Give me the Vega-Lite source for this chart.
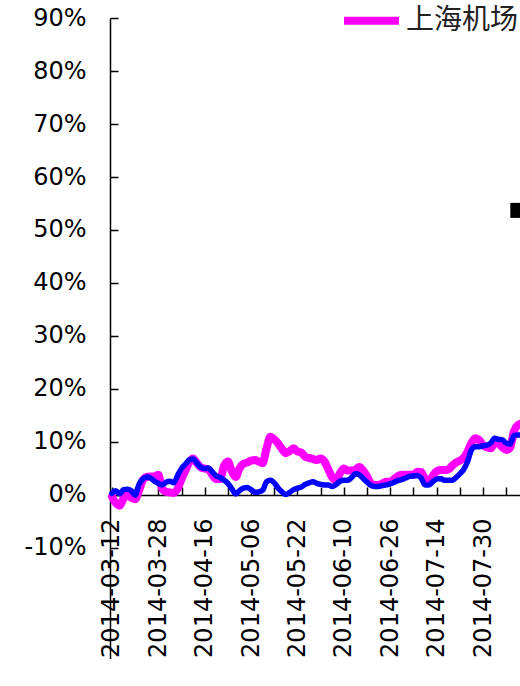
{
  "$schema": "https://vega.github.io/schema/vega-lite/v6.json",
  "width": 413.6,
  "height": 641.3,
  "autosize": {"type": "none"},
  "padding": {"left": 110, "top": 18, "right": 0, "bottom": 0},
  "background": "white",
  "config": {
    "view": {"stroke": null},
    "axis": {
      "grid": false,
      "title": null,
      "domainColor": "black",
      "domainWidth": 1.5,
      "tickColor": "black",
      "tickWidth": 1.5,
      "tickSize": -8,
      "labelColor": "black",
      "labelFont": "DejaVu Sans"
    }
  },
  "encoding": {
    "x": {
      "field": "date",
      "type": "ordinal",
      "scale": {"type": "point", "padding": 0.5},
      "axis": {
        "orient": "bottom",
        "offset": -164.3,
        "values": ["2014-03-12", "2014-03-20", "2014-03-28", "2014-04-08", "2014-04-16", "2014-04-24", "2014-05-06", "2014-05-14", "2014-05-22", "2014-05-30", "2014-06-10", "2014-06-18", "2014-06-26", "2014-07-04", "2014-07-14", "2014-07-22", "2014-07-30", "2014-08-07"],
        "labelExpr": "indexof(['2014-03-12','2014-03-28','2014-04-16','2014-05-06','2014-05-22','2014-06-10','2014-06-26','2014-07-14','2014-07-30'], datum.value) >= 0 ? datum.value : ''",
        "labelAngle": 270,
        "labelFontSize": 24,
        "labelPadding": 31,
        "labelOverlap": false,
        "labelLimit": 0
      }
    },
    "y": {
      "field": "value",
      "type": "quantitative",
      "scale": {"domain": [-31, 90], "nice": false, "zero": false},
      "axis": {
        "values": [-10, 0, 10, 20, 30, 40, 50, 60, 70, 80, 90],
        "labelExpr": "datum.value + '%'",
        "labelFontSize": 24,
        "labelPadding": 32
      }
    }
  },
  "layer": [
    {
      "data": {
        "values": [
          {"date": "2014-03-12", "上海机场": -0.3, "上证综指": 0.3},
          {"date": "2014-03-13", "上海机场": -1.5, "上证综指": 0.8},
          {"date": "2014-03-14", "上海机场": -2.0, "上证综指": 0.2},
          {"date": "2014-03-17", "上海机场": -0.7, "上证综指": 1.0},
          {"date": "2014-03-18", "上海机场": 0.0, "上证综指": 1.1},
          {"date": "2014-03-19", "上海机场": -0.5, "上证综指": 0.8},
          {"date": "2014-03-20", "上海机场": -0.8, "上证综指": 0.0},
          {"date": "2014-03-21", "上海机场": 0.8, "上证综指": 2.0},
          {"date": "2014-03-24", "上海机场": 2.8, "上证综指": 3.0},
          {"date": "2014-03-25", "上海机场": 3.4, "上证综指": 3.4},
          {"date": "2014-03-26", "上海机场": 3.5, "上证综指": 3.2},
          {"date": "2014-03-27", "上海机场": 3.5, "上证综指": 2.6},
          {"date": "2014-03-28", "上海机场": 3.8, "上证综指": 2.2},
          {"date": "2014-03-31", "上海机场": 1.2, "上证综指": 1.9},
          {"date": "2014-04-01", "上海机场": 0.6, "上证综指": 2.4},
          {"date": "2014-04-02", "上海机场": 0.5, "上证综指": 2.6},
          {"date": "2014-04-03", "上海机场": 0.4, "上证综指": 2.3},
          {"date": "2014-04-04", "上海机场": 1.2, "上证综指": 3.7},
          {"date": "2014-04-08", "上海机场": 3.0, "上证综指": 5.0},
          {"date": "2014-04-09", "上海机场": 4.6, "上证综指": 5.8},
          {"date": "2014-04-10", "上海机场": 6.2, "上证综指": 6.6},
          {"date": "2014-04-11", "上海机场": 6.9, "上证综指": 6.8},
          {"date": "2014-04-14", "上海机场": 6.0, "上证综指": 6.0},
          {"date": "2014-04-15", "上海机场": 5.2, "上证综指": 5.2},
          {"date": "2014-04-16", "上海机场": 5.0, "上证综指": 5.0},
          {"date": "2014-04-17", "上海机场": 4.8, "上证综指": 5.1},
          {"date": "2014-04-18", "上海机场": 3.8, "上证综指": 4.3},
          {"date": "2014-04-21", "上海机场": 3.0, "上证综指": 3.6},
          {"date": "2014-04-22", "上海机场": 3.0, "上证综指": 3.3},
          {"date": "2014-04-23", "上海机场": 5.5, "上证综指": 2.8},
          {"date": "2014-04-24", "上海机场": 6.3, "上证综指": 2.2},
          {"date": "2014-04-25", "上海机场": 4.5, "上证综指": 1.2},
          {"date": "2014-04-28", "上海机场": 3.4, "上证综指": 0.2},
          {"date": "2014-04-29", "上海机场": 5.0, "上证综指": 0.8},
          {"date": "2014-04-30", "上海机场": 5.9, "上证综指": 1.3},
          {"date": "2014-05-05", "上海机场": 6.1, "上证综指": 1.4},
          {"date": "2014-05-06", "上海机场": 6.5, "上证综指": 1.0},
          {"date": "2014-05-07", "上海机场": 6.6, "上证综指": 0.5},
          {"date": "2014-05-08", "上海机场": 6.3, "上证综指": 0.6},
          {"date": "2014-05-09", "上海机场": 6.0, "上证综指": 0.9},
          {"date": "2014-05-12", "上海机场": 8.8, "上证综指": 2.5},
          {"date": "2014-05-13", "上海机场": 11.0, "上证综指": 2.8},
          {"date": "2014-05-14", "上海机场": 10.5, "上证综指": 2.3},
          {"date": "2014-05-15", "上海机场": 9.7, "上证综指": 1.3},
          {"date": "2014-05-16", "上海机场": 8.7, "上证综指": 0.6},
          {"date": "2014-05-19", "上海机场": 7.9, "上证综指": 0.1},
          {"date": "2014-05-20", "上海机场": 8.3, "上证综指": 0.5},
          {"date": "2014-05-21", "上海机场": 8.8, "上证综指": 1.0},
          {"date": "2014-05-22", "上海机场": 8.2, "上证综指": 1.3},
          {"date": "2014-05-23", "上海机场": 8.0, "上证综指": 1.5},
          {"date": "2014-05-26", "上海机场": 7.2, "上证综指": 2.0},
          {"date": "2014-05-27", "上海机场": 7.0, "上证综指": 2.3},
          {"date": "2014-05-28", "上海机场": 6.8, "上证综指": 2.5},
          {"date": "2014-05-29", "上海机场": 6.6, "上证综指": 2.2},
          {"date": "2014-05-30", "上海机场": 6.9, "上证综指": 2.0},
          {"date": "2014-06-03", "上海机场": 6.3, "上证综指": 1.9},
          {"date": "2014-06-04", "上海机场": 4.8, "上证综指": 1.9},
          {"date": "2014-06-05", "上海机场": 3.3, "上证综指": 1.6},
          {"date": "2014-06-06", "上海机场": 2.8, "上证综指": 2.0},
          {"date": "2014-06-09", "上海机场": 4.1, "上证综指": 2.6},
          {"date": "2014-06-10", "上海机场": 5.0, "上证综指": 2.8},
          {"date": "2014-06-11", "上海机场": 4.6, "上证综指": 2.8},
          {"date": "2014-06-12", "上海机场": 4.6, "上证综指": 3.3},
          {"date": "2014-06-13", "上海机场": 4.8, "上证综指": 4.0},
          {"date": "2014-06-16", "上海机场": 5.3, "上证综指": 3.8},
          {"date": "2014-06-17", "上海机场": 4.6, "上证综指": 3.1},
          {"date": "2014-06-18", "上海机场": 3.5, "上证综指": 2.4},
          {"date": "2014-06-19", "上海机场": 2.2, "上证综指": 1.8},
          {"date": "2014-06-20", "上海机场": 1.9, "上证综指": 1.6},
          {"date": "2014-06-23", "上海机场": 1.9, "上证综指": 1.6},
          {"date": "2014-06-24", "上海机场": 2.2, "上证综指": 1.8},
          {"date": "2014-06-25", "上海机场": 2.5, "上证综指": 1.9},
          {"date": "2014-06-26", "上海机场": 2.5, "上证综指": 2.1},
          {"date": "2014-06-27", "上海机场": 3.0, "上证综指": 2.4},
          {"date": "2014-06-30", "上海机场": 3.6, "上证综指": 2.7},
          {"date": "2014-07-01", "上海机场": 3.8, "上证综指": 2.9},
          {"date": "2014-07-02", "上海机场": 3.8, "上证综指": 3.2},
          {"date": "2014-07-03", "上海机场": 3.8, "上证综指": 3.5},
          {"date": "2014-07-04", "上海机场": 3.8, "上证综指": 3.6},
          {"date": "2014-07-07", "上海机场": 4.4, "上证综指": 3.7},
          {"date": "2014-07-08", "上海机场": 4.3, "上证综指": 3.2},
          {"date": "2014-07-09", "上海机场": 3.1, "上证综指": 1.9},
          {"date": "2014-07-10", "上海机场": 2.6, "上证综指": 1.9},
          {"date": "2014-07-11", "上海机场": 3.6, "上证综指": 2.5},
          {"date": "2014-07-14", "上海机场": 4.5, "上证综指": 3.0},
          {"date": "2014-07-15", "上海机场": 4.7, "上证综指": 3.1},
          {"date": "2014-07-16", "上海机场": 4.7, "上证综指": 2.8},
          {"date": "2014-07-17", "上海机场": 4.8, "上证综指": 2.8},
          {"date": "2014-07-18", "上海机场": 5.5, "上证综指": 2.8},
          {"date": "2014-07-21", "上海机场": 6.1, "上证综指": 3.3},
          {"date": "2014-07-22", "上海机场": 6.5, "上证综指": 4.0},
          {"date": "2014-07-23", "上海机场": 7.0, "上证综指": 4.8},
          {"date": "2014-07-24", "上海机场": 8.2, "上证综指": 6.3},
          {"date": "2014-07-25", "上海机场": 9.8, "上证综指": 8.5},
          {"date": "2014-07-28", "上海机场": 10.7, "上证综指": 9.1},
          {"date": "2014-07-29", "上海机场": 10.4, "上证综指": 9.1},
          {"date": "2014-07-30", "上海机场": 9.4, "上证综指": 9.3},
          {"date": "2014-07-31", "上海机场": 9.0, "上证综指": 9.4},
          {"date": "2014-08-01", "上海机场": 8.8, "上证综指": 9.8},
          {"date": "2014-08-04", "上海机场": 9.8, "上证综指": 10.7},
          {"date": "2014-08-05", "上海机场": 9.7, "上证综指": 10.5},
          {"date": "2014-08-06", "上海机场": 9.0, "上证综指": 10.4},
          {"date": "2014-08-07", "上海机场": 8.5, "上证综指": 9.8},
          {"date": "2014-08-08", "上海机场": 8.9, "上证综指": 9.6},
          {"date": "2014-08-11", "上海机场": 12.0, "上证综指": 11.2},
          {"date": "2014-08-12", "上海机场": 13.2, "上证综指": 11.3},
          {"date": "2014-08-13", "上海机场": 13.5, "上证综指": 11.3}
        ]
      },
      "transform": [{"fold": ["上海机场", "上证综指"], "as": ["series", "value"]}],
      "mark": {"type": "line", "interpolate": "monotone", "strokeCap": "round", "strokeJoin": "round"},
      "encoding": {
        "color": {
          "field": "series",
          "type": "nominal",
          "scale": {"domain": ["上海机场", "上证综指"], "range": ["#FF00FF", "#0000FF"]},
          "legend": {
            "orient": "none",
            "legendX": 230,
            "legendY": -29,
            "direction": "horizontal",
            "title": null,
            "symbolType": "stroke",
            "symbolSize": 3025,
            "symbolStrokeWidth": 7,
            "labelFont": "Noto Sans CJK SC",
            "labelFontSize": 28,
            "labelColor": "#222222",
            "labelOffset": 3,
            "labelLimit": 0,
            "columnPadding": 20
          }
        },
        "strokeWidth": {
          "field": "series",
          "type": "nominal",
          "scale": {"domain": ["上海机场", "上证综指"], "range": [8, 5.5]},
          "legend": null
        }
      }
    },
    {
      "data": {"values": [{"date": "2014-08-12", "value": 53.7}]},
      "mark": {"type": "square", "size": 225, "color": "black", "filled": true, "opacity": 1}
    }
  ]
}
